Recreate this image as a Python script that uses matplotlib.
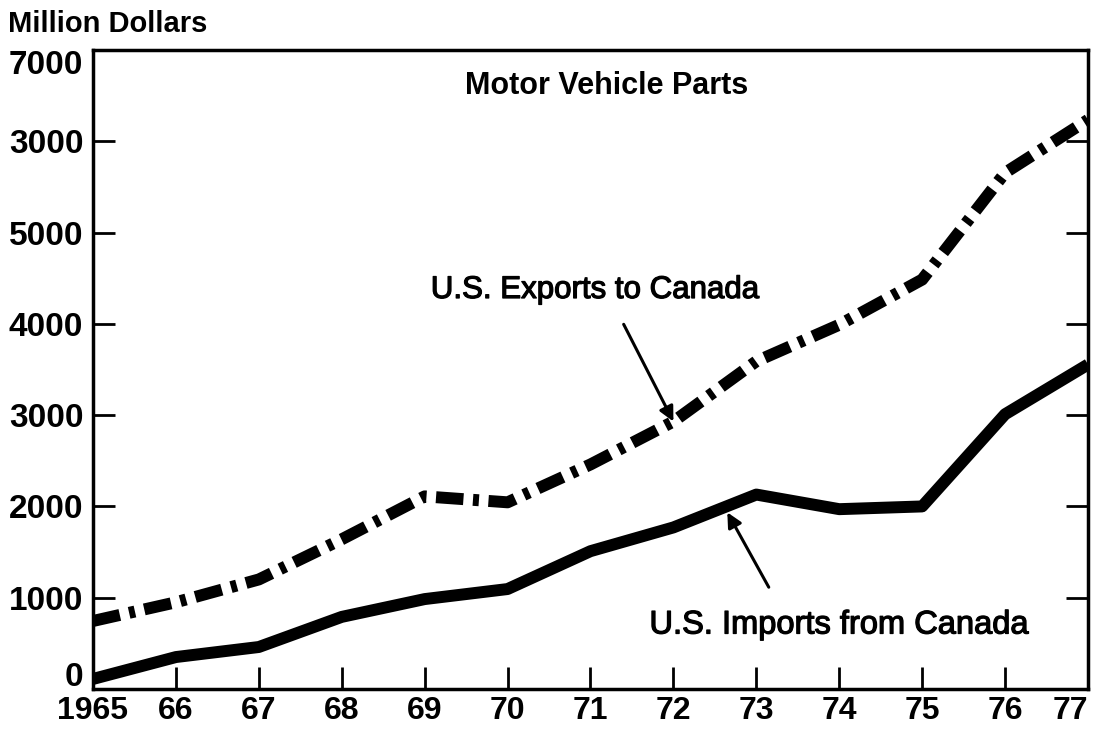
import matplotlib
matplotlib.use("Agg")
import matplotlib.pyplot as plt
import matplotlib.transforms as mtransforms
import matplotlib.patheffects as pe

years = [1965, 1966, 1967, 1968, 1969, 1970, 1971, 1972, 1973, 1974, 1975, 1976, 1977]
year_labels = ["1965", "66", "67", "68", "69", "70", "71", "72", "73", "74", "75", "76", "77"]
exports = [745, 950, 1200, 1640, 2110, 2045, 2460, 2930, 3590, 3990, 4485, 5655, 6235]
imports = [110, 350, 460, 790, 985, 1095, 1510, 1770, 2130, 1970, 2000, 3010, 3555]
y_ticks = [0, 1000, 2000, 3000, 4000, 5000, 6000, 7000]
y_labels = ["0", "1000", "2000", "3000", "4000", "5000", "3000", "7000"]

plt.rcParams['font.family'] = ['Liberation Sans', 'DejaVu Sans']

fig = plt.figure(figsize=(11.03, 7.36), dpi=100)
ax = fig.add_axes([93/1103, 1-689/736, (1088-93)/1103, (689-50)/736])

ax.plot(years, imports, color='black', lw=8.6, solid_capstyle='butt', solid_joinstyle='round')
ax.plot(years, exports, color='black', lw=8.6, linestyle=(0, (2.3, 0.8, 0.5, 0.8)),
        dash_capstyle='butt', dash_joinstyle='round')

ax.set_xlim(1965, 1977)
ax.set_ylim(0, 7000)

for s in ax.spines.values():
    s.set_linewidth(2.5)

ax.set_xticks(years)
ax.set_xticklabels(year_labels, fontsize=23, fontweight='bold')
ax.set_yticks(y_ticks)
ax.set_yticklabels(y_labels, fontsize=24, fontweight='bold')
ax.tick_params(axis='x', direction='in', length=16, width=2, pad=5)
ax.tick_params(axis='y', direction='in', length=16, width=2, pad=7, left=True, right=True)
xl = ax.get_xticklabels()
xl[-1].set_horizontalalignment('right')
xl[-1].set_x(1977)

yl = ax.get_yticklabels()
yl[0].set_transform(yl[0].get_transform() + mtransforms.ScaledTranslation(0, 15/100, fig.dpi_scale_trans))
yl[-1].set_transform(yl[-1].get_transform() + mtransforms.ScaledTranslation(0, -12/100, fig.dpi_scale_trans))

thick = [pe.withStroke(linewidth=0.9, foreground='black')]
fig.text(8/1103, 1-24/736, "Million Dollars", fontsize=21, fontweight='bold', ha='left', va='center')
fig.text(607/1103, 1-86/736, "Motor Vehicle Parts", fontsize=22, fontweight='bold', ha='center', va='center')
fig.text(595/1103, 1-290/736, "U.S. Exports to Canada", fontsize=22.5, ha='center', va='center', path_effects=thick)
fig.text(839/1103, 1-625/736, "U.S. Imports from Canada", fontsize=23.5, ha='center', va='center', path_effects=thick)

ax.annotate("", xy=(1972.0, 2930), xytext=(1971.4, 3995),
            arrowprops=dict(arrowstyle='-|>', color='black', lw=2.2, mutation_scale=22, shrinkA=0, shrinkB=0))
ax.annotate("", xy=(1972.65, 1935), xytext=(1973.15, 1115),
            arrowprops=dict(arrowstyle='-|>', color='black', lw=2.2, mutation_scale=22, shrinkA=0, shrinkB=0))

fig.savefig("out.png", dpi=100)
